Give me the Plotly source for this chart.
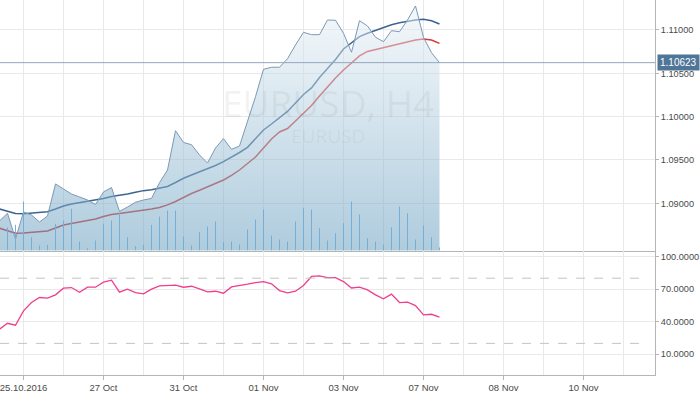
import plotly.graph_objects as go

# ---------------- data (EURUSD, H4) ----------------
bar_index = list(range(56))

price = [1.08796, 1.08885, 1.08588, 1.08900, 1.08865, 1.08784, 1.08854, 1.09223,
         1.09165, 1.09107, 1.09073, 1.09038, 1.08986, 1.09131, 1.09182, 1.08906,
         1.08957, 1.09012, 1.09038, 1.09056, 1.09238, 1.09384, 1.09838, 1.09702,
         1.09676, 1.09558, 1.09465, 1.09638, 1.09746, 1.09623, 1.09661, 1.09933,
         1.10230, 1.10546, 1.10570, 1.10570, 1.10668, 1.10827, 1.10973, 1.10946,
         1.10946, 1.11115, 1.11112, 1.10962, 1.10743, 1.11107, 1.11046, 1.10916,
         1.10865, 1.10992, 1.10980, 1.11115, 1.11277, 1.10916, 1.10738, 1.10623]

ma_blue = [1.08934, 1.08911, 1.08882, 1.08880, 1.08888, 1.08894, 1.08903, 1.08934,
           1.08969, 1.08992, 1.09009, 1.09021, 1.09035, 1.09056, 1.09079, 1.09092,
           1.09107, 1.09127, 1.09146, 1.09156, 1.09173, 1.09194, 1.09240, 1.09289,
           1.09327, 1.09361, 1.09399, 1.09436, 1.09480, 1.09529, 1.09586, 1.09646,
           1.09742, 1.09846, 1.09915, 1.09990, 1.10060, 1.10158, 1.10256, 1.10331,
           1.10452, 1.10556, 1.10660, 1.10781, 1.10850, 1.10923, 1.10962, 1.10997,
           1.11031, 1.11061, 1.11083, 1.11100, 1.11115, 1.11124, 1.11107, 1.11069]

ma_red = [1.08712, 1.08680, 1.08654, 1.08657, 1.08663, 1.08669, 1.08680, 1.08715,
          1.08750, 1.08767, 1.08784, 1.08802, 1.08819, 1.08848, 1.08871, 1.08882,
          1.08894, 1.08906, 1.08917, 1.08934, 1.08952, 1.08981, 1.09021, 1.09069,
          1.09113, 1.09150, 1.09188, 1.09223, 1.09269, 1.09321, 1.09384, 1.09459,
          1.09534, 1.09638, 1.09742, 1.09823, 1.09863, 1.09950, 1.10036, 1.10129,
          1.10238, 1.10348, 1.10446, 1.10538, 1.10619, 1.10700, 1.10752, 1.10775,
          1.10800, 1.10821, 1.10844, 1.10867, 1.10885, 1.10896, 1.10885, 1.10846]

volume = [1000, 2300, 2570, 4900, 1330, 500, 570, 2670, 3000, 4170, 900, 230,
          1000, 2670, 3000, 3800, 1330, 430, 570, 2570, 3400, 4000, 4000, 1400,
          500, 1830, 2400, 2900, 830, 900, 600, 2100, 3100, 4100, 1500, 1100,
          900, 2900, 4230, 4100, 2230, 1000, 1730, 2730, 4900, 3600, 1230, 900,
          600, 2330, 4400, 3730, 1100, 2500, 1330, 300]

rsi = [33.0, 38.5, 36.7, 49.9, 57.6, 62.2, 61.6, 64.7, 70.8, 71.4, 67.1, 71.7,
       71.7, 76.3, 78.2, 67.1, 69.9, 66.8, 65.6, 69.9, 73.0, 73.6, 73.6, 71.7,
       72.6, 70.2, 67.4, 68.0, 66.2, 72.0, 73.0, 74.5, 76.0, 76.9, 74.8, 68.6,
       66.5, 68.0, 73.3, 81.6, 82.2, 80.6, 80.6, 76.9, 71.0, 71.7, 69.3, 64.7,
       61.0, 65.3, 57.6, 57.9, 54.8, 46.2, 46.8, 44.1]

tick_idx = [3, 13, 23, 33, 43, 53, 63, 73]
tick_labels = ["25.10.2016", "27 Oct", "31 Oct", "01 Nov", "03 Nov", "07 Nov", "08 Nov", "10 Nov"]
minor_grid_idx = [8, 18, 28, 38, 48, 58, 68, 78]
price_ticks = [1.09, 1.095, 1.10, 1.105, 1.11]
rsi_ticks = [10, 40, 70, 100]
rsi_levels = [80, 20]
last_price = 1.10623
x_range = [0.0625, 81.9375]
rsi_level_end = 80.08

# ---------------- styles ----------------
GRID = "#e9e9e9"
AXIS = "#b5b5b5"
TXT = "#4a4a4a"
FONT = "Liberation Sans, Arial, sans-serif"
FS = 9.5
FS_Y = 9.2

# volume stems built from the data arrays (one thin vertical segment per bar)
vol_x, vol_y = [], []
for i, v in zip(bar_index, volume):
    vol_x += [i, i, None]
    vol_y += [0, v, None]

fig = go.Figure()

# moving averages (drawn under the translucent price area)
fig.add_trace(go.Scatter(x=bar_index, y=ma_red, mode="lines",
                         line=dict(color="#d23a3a", width=1.5),
                         xaxis="x", yaxis="y", hoverinfo="skip"))
fig.add_trace(go.Scatter(x=bar_index, y=ma_blue, mode="lines",
                         line=dict(color="#3b6590", width=1.5),
                         xaxis="x", yaxis="y", hoverinfo="skip"))

# price area
fig.add_trace(go.Scatter(x=bar_index, y=price, mode="lines",
                         line=dict(color="#7c98b5", width=1),
                         fill="tozeroy",
                         fillgradient=dict(type="vertical",
                                           colorscale=[[0, "rgba(100,156,190,0.52)"],
                                                       [1, "rgba(238,244,248,0.5)"]],
                                           start=1.0846, stop=1.1135),
                         xaxis="x", yaxis="y", hoverinfo="skip"))

# volume (overlay axis)
fig.add_trace(go.Scatter(x=vol_x, y=vol_y, mode="lines",
                         line=dict(color="#72b0da", width=1),
                         xaxis="x", yaxis="y3", hoverinfo="skip"))

# RSI
fig.add_trace(go.Scatter(x=bar_index, y=rsi, mode="lines",
                         line=dict(color="#ee3f8e", width=1.3),
                         xaxis="x2", yaxis="y2", hoverinfo="skip"))

shapes = []
for lvl in rsi_levels:
    shapes.append(dict(type="line", xref="x2", yref="y2", x0=x_range[0], x1=rsi_level_end,
                       y0=lvl, y1=lvl, line=dict(color="#c4c4c4", width=1, dash="dash")))
shapes.append(dict(type="line", xref="x domain", yref="y", x0=0, x1=1,
                   y0=last_price, y1=last_price, line=dict(color="#93a7bd", width=1),
                   layer="above"))

annotations = [
    dict(text="EURUSD, H4", xref="x domain", yref="y domain", x=0.5, y=0.592,
         showarrow=False, font=dict(family="Open Sans, sans-serif", size=37,
                                    color="rgba(120,120,120,0.09)")),
    dict(text="EURUSD", xref="x domain", yref="y domain", x=0.5, y=0.458,
         showarrow=False, font=dict(family="Open Sans, sans-serif", size=19,
                                    color="rgba(120,120,120,0.09)")),
    dict(text=f"{last_price:.5f}", xref="paper", yref="y", x=1, y=last_price,
         xanchor="left", yanchor="middle", xshift=2, showarrow=False,
         bgcolor="#4f7598", borderpad=2,
         font=dict(family=FONT, size=10, color="white")),
]

fig.update_layout(
    width=700, height=394,
    margin=dict(l=0, r=45, t=0, b=19, autoexpand=False),
    paper_bgcolor="white", plot_bgcolor="white",
    showlegend=False,
    font=dict(family=FONT, size=FS, color=TXT),
    xaxis=dict(domain=[0, 1], anchor="y", range=x_range, tickvals=tick_idx,
               showticklabels=False, ticks="", showgrid=True, gridcolor=GRID, gridwidth=1,
               minor=dict(tickvals=minor_grid_idx, showgrid=True, gridcolor=GRID, gridwidth=1),
               zeroline=False, showline=True, linecolor=AXIS, linewidth=1),
    xaxis2=dict(domain=[0, 1], anchor="y2", matches="x", range=x_range,
                tickvals=tick_idx, ticktext=tick_labels, ticks="outside", ticklen=4,
                tickcolor=AXIS, showgrid=True, gridcolor=GRID, gridwidth=1,
                minor=dict(tickvals=minor_grid_idx, showgrid=True, gridcolor=GRID, gridwidth=1),
                zeroline=False, showline=True, linecolor=AXIS, linewidth=1,
                ticklabeloverflow="allow",
                tickfont=dict(family=FONT, size=FS, color=TXT)),
    yaxis=dict(domain=[0.332, 1], anchor="x", side="right", range=[1.08455, 1.11346],
               tickvals=price_ticks, tickformat=".5f", ticks="outside", ticklen=3,
               tickcolor=AXIS, showgrid=True, gridcolor=GRID, zeroline=False,
               showline=True, linecolor=AXIS, linewidth=1, ticklabeloverflow="allow",
               tickfont=dict(family=FONT, size=FS_Y, color=TXT)),
    yaxis3=dict(overlaying="y", anchor="x", range=[0, 25050], visible=False),
    yaxis2=dict(domain=[0, 0.332], anchor="x2", side="right", range=[-9.1, 105.5],
                tickvals=rsi_ticks, tickformat=".4f", ticks="outside", ticklen=3,
                tickcolor=AXIS, showgrid=True, gridcolor=GRID, zeroline=False,
                showline=True, linecolor=AXIS, linewidth=1, ticklabeloverflow="allow",
                tickfont=dict(family=FONT, size=FS_Y, color=TXT)),
    shapes=shapes,
    annotations=annotations,
)

fig.write_html("out.html",
               config={"displayModeBar": False},
               post_script="document.body.style.margin='0px';document.body.style.overflow='hidden';")
